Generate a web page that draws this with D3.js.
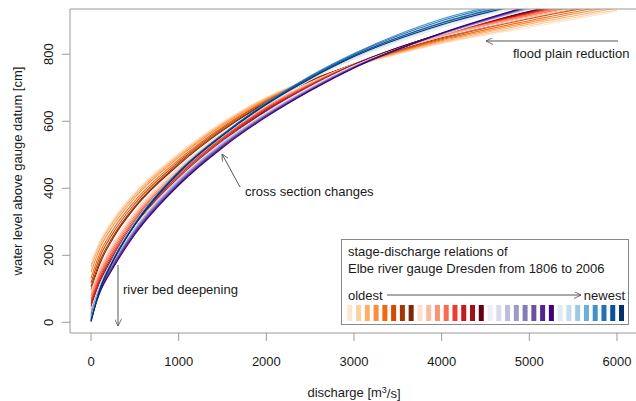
<!DOCTYPE html>
<html>
<head>
<meta charset="utf-8">
<script src="https://cdnjs.cloudflare.com/ajax/libs/d3/7.8.5/d3.min.js"></script>
<style>
  body{margin:0;background:#fff;}
  text{font-family:"Liberation Sans",Arial,sans-serif;font-size:13px;fill:#1a1a1a;}
</style>
</head>
<body>
<div id="chart"></div>
<script>
// discharge values [m3/s] where the stages of every curve were read
var qSample = [0, 100, 250, 500, 1000, 1500, 2000, 2500, 3000, 4000, 5000, 6000]

// water level [cm] per curve, oldest first in each group
var orangeStages = [
  [178, 242, 307, 388, 505, 598, 672, 726, 765, 832, 880, 928],
  [172, 237, 302, 384, 501, 595, 670, 725, 765, 834, 885, 932],
  [165, 231, 297, 379, 497, 592, 668, 724, 766, 837, 890, 938],
  [150, 220, 288, 372, 492, 588, 665, 723, 767, 840, 895, 944],
  [132, 206, 276, 362, 485, 583, 662, 722, 768, 843, 900, 950],
  [118, 194, 266, 354, 479, 579, 660, 721, 769, 846, 906, 955],
  [106, 182, 256, 346, 474, 575, 657, 720, 770, 849, 910, 958],
  [96, 174, 250, 342, 470, 572, 655, 719, 771, 852, 915, 962]
]
var redStages = [
  [92, 162, 236, 330, 462, 566, 650, 716, 770, 852, 910, 960],
  [85, 155, 229, 324, 457, 562, 647, 714, 770, 854, 913, 965],
  [78, 148, 222, 318, 452, 558, 644, 712, 770, 856, 916, 970],
  [70, 141, 215, 312, 447, 554, 641, 710, 770, 858, 919, 975],
  [62, 134, 208, 306, 442, 550, 638, 708, 769, 859, 922, 980],
  [55, 127, 201, 300, 437, 546, 635, 706, 769, 860, 924, 983],
  [47, 120, 195, 294, 432, 542, 632, 704, 768, 861, 926, 985],
  [40, 113, 188, 288, 428, 538, 629, 702, 768, 862, 928, 988]
]
var purpleStages = [
  [38, 112, 185, 285, 428, 538, 627, 702, 766, 858, 933, 1000],
  [34, 109, 182, 282, 426, 536, 625, 700, 765, 859, 935, 1003],
  [31, 106, 179, 279, 424, 534, 623, 698, 764, 860, 937, 1006],
  [27, 103, 176, 276, 421, 532, 621, 697, 763, 860, 938, 1008],
  [23, 99, 172, 273, 418, 529, 619, 695, 762, 861, 940, 1010],
  [19, 96, 169, 270, 415, 527, 617, 694, 761, 862, 941, 1012],
  [15, 92, 165, 266, 412, 524, 615, 692, 760, 862, 942, 1014],
  [11, 88, 161, 262, 409, 521, 613, 691, 759, 863, 944, 1016]
]
var blueStages = [
  [10, 103, 189, 297, 447, 556, 647, 723, 785, 880, 948, 1010],
  [9, 102, 188, 296, 447, 557, 649, 726, 789, 885, 952, 1015],
  [8, 101, 187, 296, 448, 558, 651, 729, 793, 890, 957, 1020],
  [7, 100, 186, 295, 449, 560, 653, 732, 797, 895, 962, 1025],
  [6, 99, 185, 294, 450, 561, 655, 735, 802, 905, 968, 1030],
  [5, 98, 184, 293, 449, 560, 654, 733, 800, 900, 965, 1028],
  [3, 97, 183, 292, 447, 558, 652, 730, 796, 893, 960, 1022],
  [2, 96, 182, 291, 446, 557, 650, 727, 793, 888, 955, 1018]
]

var xTicks = [0, 1000, 2000, 3000, 4000, 5000, 6000]
var yTicks = [0, 200, 400, 600, 800]

// brewer palettes, lightest class dropped
var palettes = [
  d3.schemeOranges[9].slice(1),
  d3.schemeReds[9].slice(1),
  d3.schemePurples[9].slice(1),
  d3.schemeBlues[9].slice(1)
]
var groups = [orangeStages, redStages, purpleStages, blueStages]

var width = 636, height = 401
var plot = {left: 70, right: 638, top: 9, bottom: 333}

var svg = d3.select("#chart").append("svg")
    .attr("width", width)
    .attr("height", height)

var x = d3.scaleLinear().domain([-240, 6240]).range([plot.left, plot.right])
var y = d3.scaleLinear().domain([-32, 935]).range([plot.bottom, plot.top])

var defs = svg.append("defs")
defs.append("clipPath").attr("id", "clip")
  .append("rect")
    .attr("x", plot.left).attr("y", plot.top)
    .attr("width", plot.right - plot.left).attr("height", plot.bottom - plot.top)

// arrow head marker
defs.append("marker")
    .attr("id", "head")
    .attr("viewBox", "0 0 10 10")
    .attr("refX", 10).attr("refY", 5)
    .attr("markerWidth", 7).attr("markerHeight", 7)
    .attr("markerUnits", "userSpaceOnUse")
    .attr("orient", "auto")
  .append("path")
    .attr("d", "M0,0 L10,5 L0,10")
    .attr("fill", "none")
    .attr("stroke", "#555")
    .attr("stroke-width", 1.2)

// curves, oldest drawn first
var line = d3.line()
    .x((d, i) => x(qSample[i]))
    .y(d => y(d))
    .curve(d3.curveMonotoneX)

var curves = svg.append("g").attr("clip-path", "url(#clip)")
groups.forEach(function(g, gi){
  g.forEach(function(stages, ci){
    curves.append("path")
      .attr("d", line(stages))
      .attr("fill", "none")
      .attr("stroke", palettes[gi][ci])
      .attr("stroke-width", 1.1)
  })
})

// frame: top, left, bottom
var frameColor = "#9a9a9a"
svg.append("path")
    .attr("d", `M${plot.right},${plot.top}H${plot.left}V${plot.bottom}H${plot.right}`)
    .attr("fill", "none")
    .attr("stroke", frameColor)
    .attr("stroke-width", 1)

// x axis
var xAxis = svg.append("g")
xAxis.selectAll("line").data(xTicks).join("line")
    .attr("x1", d => x(d)).attr("x2", d => x(d))
    .attr("y1", plot.bottom).attr("y2", plot.bottom + 8)
    .attr("stroke", frameColor)
xAxis.selectAll("text").data(xTicks).join("text")
    .attr("x", d => x(d))
    .attr("y", 361)
    .attr("dy", "0.35em")
    .attr("text-anchor", "middle")
    .text(d => d)

// y axis, labels rotated
var yAxis = svg.append("g")
yAxis.selectAll("line").data(yTicks).join("line")
    .attr("x1", plot.left - 8).attr("x2", plot.left)
    .attr("y1", d => y(d)).attr("y2", d => y(d))
    .attr("stroke", frameColor)
yAxis.selectAll("text").data(yTicks).join("text")
    .attr("transform", d => `translate(48,${y(d)}) rotate(-90)`)
    .attr("dy", "0.35em")
    .attr("text-anchor", "middle")
    .text(d => d)

// axis titles
var xTitle = svg.append("text")
    .attr("x", (plot.left + plot.right) / 2)
    .attr("y", 392)
    .attr("dy", "0.35em")
    .attr("text-anchor", "middle")
xTitle.append("tspan").text("discharge [m")
xTitle.append("tspan").attr("dy", "-0.45em").style("font-size", "9px").text("3")
xTitle.append("tspan").attr("dy", "0.45em").text("/s]")

svg.append("text")
    .attr("transform", `translate(17,${(plot.top + plot.bottom) / 2}) rotate(-90)`)
    .attr("dy", "0.35em")
    .attr("text-anchor", "middle")
    .text("water level above gauge datum [cm]")

// annotations
function arrow(x1, y1, x2, y2){
  svg.append("line")
    .attr("x1", x1).attr("y1", y1).attr("x2", x2).attr("y2", y2)
    .attr("stroke", "#555").attr("stroke-width", 1)
    .attr("marker-end", "url(#head)")
}
function label(tx, ty, s, anchor){
  svg.append("text")
    .attr("x", tx).attr("y", ty)
    .attr("dy", "0.35em")
    .attr("text-anchor", anchor || "start")
    .text(s)
}
arrow(118, 265, 118, 326)
label(123, 289, "river bed deepening")
arrow(240, 187, 222, 154)
label(245, 191, "cross section changes")
arrow(618, 41, 486, 41)
label(513, 53, "flood plain reduction")

// legend
var lg = svg.append("g")
lg.append("rect")
    .attr("x", 341.5).attr("y", 239.5)
    .attr("width", 287).attr("height", 85)
    .attr("fill", "#fff")
    .attr("stroke", "#888")
label(348, 251, "stage-discharge relations of")
label(348, 268, "Elbe river gauge Dresden from 1806 to 2006")
label(348, 295, "oldest")
label(625, 295, "newest", "end")
arrow(387, 295, 581, 295)

var swatches = palettes.flat()
var sx = d3.scaleLinear().domain([0, swatches.length - 1]).range([347.3, 619])
lg.selectAll(".sw").data(swatches).join("rect")
    .attr("class", "sw")
    .attr("x", (d, i) => sx(i))
    .attr("y", 305)
    .attr("width", 5)
    .attr("height", 16)
    .attr("fill", d => d)
</script>
</body>
</html>
